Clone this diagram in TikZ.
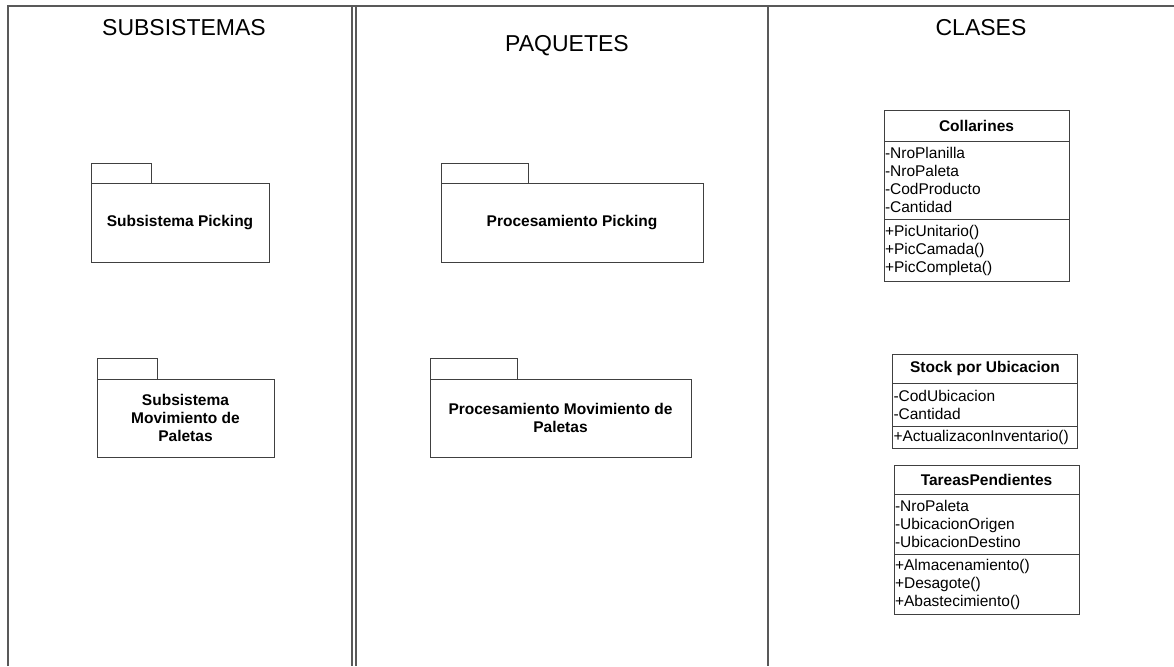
\documentclass[tikz,border=0pt]{standalone}
\usepackage{fontspec}
\setmainfont{Liberation Sans}
\usetikzlibrary{positioning}

\begin{document}
\begin{tikzpicture}[x=1pt,y=-1pt,
        lane/.style={draw=black!65, line width=1.6pt},
        lanetitle/.style={anchor=base, inner sep=0pt, font=\fontsize{23}{27}\selectfont},
        pkgbody/.style={draw=black!75, line width=1pt, outer sep=0pt, inner sep=0pt, align=center, font=\bfseries\fontsize{15.5}{18}\selectfont},
        pkgtab/.style={draw=black!75, line width=1pt, outer sep=0pt, inner sep=0pt},
        clshead/.style={draw=black!75, line width=1pt, outer sep=0pt, inner sep=0pt, minimum width=185pt, font=\bfseries\fontsize{15.5}{18}\selectfont},
        clsbody/.style={draw=black!75, line width=1pt, outer sep=0pt, inner xsep=1pt, inner ysep=0pt, text width=183pt, align=left, font=\fontsize{15.5}{18}\selectfont}
    ]

        \useasboundingbox (0,0) rectangle (1174,666);

        % Carriles
        \draw[lane] (8,666) -- (8,6) -- (1174,6);
        \draw[lane] (352,6) -- (352,666);
        \draw[lane] (356,6) -- (356,666);
        \draw[lane] (768,6) -- (768,666);

        % Titulos
        \node[lanetitle] (tsub) at (184,36) {SUBSISTEMAS};
        \node[lanetitle] (tpaq) at (567,52) {PAQUETES};
        \node[lanetitle] (tcla) at (981,36) {CLASES};

        % Subsistemas
        \node[pkgbody, minimum width=178pt, minimum height=79pt] (sub1) at (180,222.5) {Subsistema Picking};
        \node[pkgtab, minimum width=60pt, minimum height=20pt, above right=0pt and 0pt of sub1.north west] (sub1tab) {};
        \node[pkgbody, minimum width=177pt, minimum height=78pt] (sub2) at (185.5,418) {Subsistema\\Movimiento de\\Paletas};
        \node[pkgtab, minimum width=60pt, minimum height=21pt, above right=0pt and 0pt of sub2.north west] (sub2tab) {};

        % Paquetes
        \node[pkgbody, minimum width=262pt, minimum height=79pt] (paq1) at (572,222.5) {Procesamiento Picking};
        \node[pkgtab, minimum width=87pt, minimum height=20pt, above right=0pt and 0pt of paq1.north west] (paq1tab) {};
        \node[pkgbody, minimum width=261pt, minimum height=78pt] (paq2) at (560.5,418) {Procesamiento Movimiento de\\Paletas};
        \node[pkgtab, minimum width=87pt, minimum height=21pt, above right=0pt and 0pt of paq2.north west] (paq2tab) {};

        % Clases
        \node[clshead, minimum height=30pt] (colH) at (976.5,126) {Collarines};
        \node[clsbody, minimum height=78pt, below=0pt of colH] (colA) {-NroPlanilla\\-NroPaleta\\-CodProducto\\-Cantidad};
        \node[clsbody, minimum height=62pt, below=0pt of colA] (colM) {+PicUnitario()\\+PicCamada()\\+PicCompleta()};

        \node[clshead, minimum height=29pt] (stkH) at (985,368.5) {Stock por Ubicacion};
        \node[clsbody, minimum height=43pt, below=0pt of stkH] (stkA) {-CodUbicacion\\-Cantidad};
        \node[clsbody, minimum height=22pt, below=0pt of stkA] (stkM) {+ActualizaconInventario()};

        \node[clshead, minimum height=29pt] (tarH) at (986.5,479.5) {TareasPendientes};
        \node[clsbody, minimum height=60pt, below=0pt of tarH] (tarA) {-NroPaleta\\-UbicacionOrigen\\-UbicacionDestino};
        \node[clsbody, minimum height=60pt, below=0pt of tarA] (tarM) {+Almacenamiento()\\+Desagote()\\+Abastecimiento()};

\end{tikzpicture}
\end{document}
